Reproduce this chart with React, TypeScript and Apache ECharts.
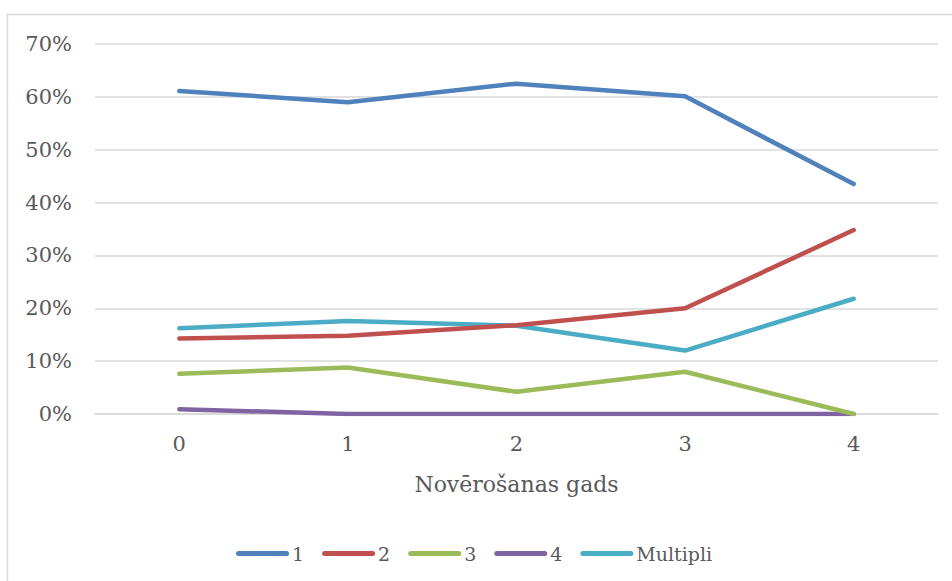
import React, { useEffect, useRef } from "react";
import * as echarts from "echarts";

const categories = ["0", "1", "2", "3", "4"];
const seriesNames = ["1", "2", "3", "4", "Multipli"];
const s1 = [61.1, 59.0, 62.5, 60.1, 43.5];
const s2 = [14.3, 14.8, 16.8, 20.0, 34.8];
const s3 = [7.6, 8.8, 4.2, 8.0, 0];
const s4 = [0.9, 0, 0, 0, 0];
const sMulti = [16.2, 17.6, 16.7, 12.0, 21.8];
const seriesValues = [s1, s2, s3, s4, sMulti];
const colors = ["#4F81BD", "#C0504D", "#9BBB59", "#8064A2", "#4BACC6"];
const yMin = 0;
const yMax = 70;
const yInterval = 10;
const xTitle = "Novērošanas gads";

const FONT = "DejaVu Serif";
const TEXT = "#595959";

export default function App() {
  const ref = useRef<HTMLDivElement>(null);
  useEffect(() => {
    if (!ref.current) return;
    const chart = echarts.init(ref.current, null, { renderer: "svg" });
    chart.setOption({
      animation: false,
      backgroundColor: "#ffffff",
      grid: { left: 95, right: 14, top: 44, bottom: 167 },
      graphic: [
        {
          type: "rect",
          shape: { x: 7.5, y: 14.5, width: 970, height: 600 },
          style: { fill: "none", stroke: "#d9d9d9", lineWidth: 1.5 },
          silent: true,
        },
      ],
      xAxis: {
        type: "category",
        data: categories,
        boundaryGap: true,
        axisLine: { show: true, lineStyle: { color: "#d9d9d9", width: 1.5 } },
        axisTick: { show: false },
        axisLabel: { color: TEXT, fontFamily: FONT, fontSize: 21, margin: 19 },
        name: xTitle,
        nameLocation: "middle",
        nameGap: 59,
        nameTextStyle: { color: TEXT, fontFamily: FONT, fontSize: 22 },
      },
      yAxis: {
        type: "value",
        min: yMin,
        max: yMax,
        interval: yInterval,
        axisLine: { show: false },
        axisTick: { show: false },
        splitLine: { lineStyle: { color: "#d9d9d9", width: 1.5 } },
        axisLabel: {
          color: TEXT,
          fontFamily: FONT,
          fontSize: 21,
          margin: 23,
          formatter: "{value}%",
        },
      },
      legend: {
        left: 231,
        top: 539,
        data: seriesNames,
        icon: "path://M2.5,0 L50.5,0 A2.5,2.5 0 0 1 50.5,5 L2.5,5 A2.5,2.5 0 0 1 2.5,0 Z",
        itemWidth: 53,
        itemHeight: 5,
        itemGap: 18,
        textStyle: { color: TEXT, fontFamily: FONT, fontSize: 19, padding: [0, 0, 0, -2] },
      },
      series: seriesValues.map((vals, i) => ({
        name: seriesNames[i],
        type: "line",
        data: vals,
        symbol: "none",
        color: colors[i],
        lineStyle: { width: 4.5, color: colors[i], cap: "round", join: "round" },
        z: 10 - i,
      })),
    });
    return () => chart.dispose();
  }, []);
  return (
    <div
      ref={ref}
      style={{ position: "fixed", left: 0, top: 0, width: 952, height: 581 }}
    />
  );
}
